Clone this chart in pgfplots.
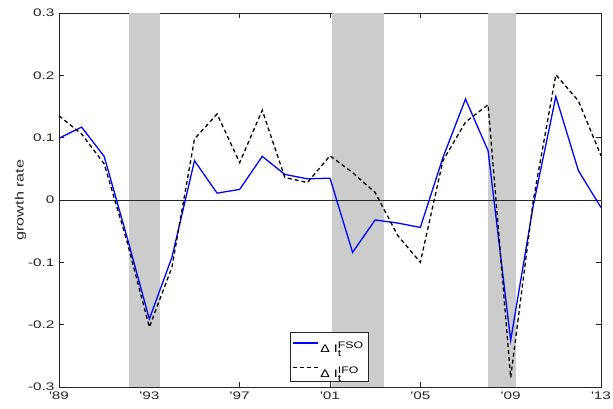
\documentclass[border=0pt]{standalone}
\usepackage{amsmath}
\usepackage{graphicx}
\usepackage{fontspec}
\setmainfont{Liberation Sans}
\usepackage{pgfplots}
\pgfplotsset{compat=1.18}
\definecolor{shade}{RGB}{204,204,204}
\definecolor{axgray}{RGB}{38,38,38}
\newcommand{\sx}[1]{\scalebox{1.4}[1]{#1}}
\newcommand{\lgd}[1]{\scalebox{1.3}[1]{Δ I$_{\text{\fontsize{9.5}{9.5}\selectfont t}}^{\text{\fontsize{9.5}{9.5}\selectfont #1}}$}\rule[-9bp]{0pt}{28bp}\hspace{20bp}}
\begin{document}
\begin{tikzpicture}
\begin{axis}[
  width=542bp, height=374bp, scale only axis,
  xmin=1989, xmax=2013, ymin=-0.3, ymax=0.3,
  xtick={1989,1993,1997,2001,2005,2009,2013},
  xticklabels={\sx{\textquotesingle89},\sx{\textquotesingle93},\sx{\textquotesingle97},\sx{\textquotesingle01},\sx{\textquotesingle05},\sx{\textquotesingle09},\sx{\textquotesingle13}},
  ytick={-0.3,-0.2,-0.1,0,0.1,0.2,0.3},
  yticklabels={\sx{-0.3},\sx{-0.2},\sx{-0.1},\sx{0},\sx{0.1},\sx{0.2},\sx{0.3}},
  tick align=inside, major tick length=5bp,
  axis line style={axgray, line width=0.6pt},
  every tick/.style={axgray, line width=0.6pt},
  ticklabel style={font=\fontsize{11}{13}\selectfont, text=axgray},
  yticklabel style={xshift=-1bp},
  ylabel={\scalebox{1.35}[1]{growth rate}},
  ylabel style={font=\fontsize{12}{14}\selectfont, text=axgray, yshift=-5bp},
  xticklabel style={yshift=-1bp},
  legend style={at={(0.426,0.016)}, anchor=south west, font=\fontsize{11}{13}\selectfont, draw=axgray, line width=0.5pt, inner xsep=2pt, inner ysep=0pt, row sep=0pt},
  legend image code/.code={\draw[#1] (0bp,1bp) -- (25bp,1bp);},
  legend cell align=left,
]
\addplot[fill=shade, draw=none, forget plot] coordinates {(1992.1,-0.3)(1992.1,0.3)(1993.47,0.3)(1993.47,-0.3)} -- cycle;
\addplot[fill=shade, draw=none, forget plot] coordinates {(2001.1,-0.3)(2001.1,0.3)(2003.4,0.3)(2003.4,-0.3)} -- cycle;
\addplot[fill=shade, draw=none, forget plot] coordinates {(2008.01,-0.3)(2008.01,0.3)(2009.24,0.3)(2009.24,-0.3)} -- cycle;
\addplot[axgray, line width=0.6pt, forget plot] coordinates {(1989,0)(2013,0)};
\addplot[blue, line width=1.3pt] coordinates {
(1989,0.099)(1990,0.117)(1991,0.070)(1992,-0.058)(1993,-0.191)(1994,-0.092)(1995,0.063)(1996,0.011)
(1997,0.017)(1998,0.070)(1999,0.041)(2000,0.034)(2001,0.035)(2002,-0.084)(2003,-0.032)(2004,-0.037)
(2005,-0.044)(2006,0.068)(2007,0.162)(2008,0.079)(2009,-0.225)(2010,-0.009)(2011,0.166)(2012,0.047)(2013,-0.012)};
\addlegendentry{\lgd{FSO}}
\addplot[black, line width=1.3pt, dash pattern=on 4pt off 3pt] coordinates {
(1989,0.135)(1990,0.106)(1991,0.058)(1992,-0.065)(1993,-0.204)(1994,-0.108)(1995,0.098)(1996,0.138)
(1997,0.060)(1998,0.144)(1999,0.036)(2000,0.028)(2001,0.071)(2002,0.044)(2003,0.012)(2004,-0.057)
(2005,-0.100)(2006,0.063)(2007,0.125)(2008,0.153)(2009,-0.285)(2010,-0.001)(2011,0.201)(2012,0.159)(2013,0.071)};
\addlegendentry{\lgd{IFO}}
\end{axis}
\pgfresetboundingbox
\path (-59bp,-22bp) rectangle (554bp,387bp);
\end{tikzpicture}
\end{document}
